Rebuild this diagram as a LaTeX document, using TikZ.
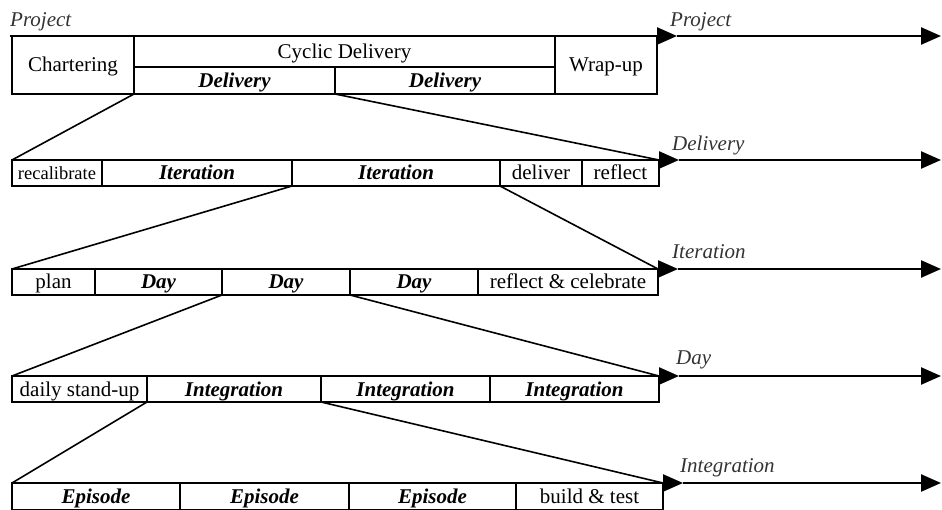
\documentclass[tikz,border=0pt]{standalone}
\usepackage{fontspec}
\setmainfont{Liberation Serif}
\usetikzlibrary{arrows.meta,positioning}

\begin{document}
\begin{tikzpicture}[
  x=1pt, y=-1pt,
  seg/.style={draw, line width=1.5pt, outer sep=0pt, inner sep=0pt, align=center,
              minimum height=26pt, text height=16pt, text depth=2pt,
              font=\fontsize{21}{24}\selectfont},
  bi/.style={font=\fontsize{21}{24}\selectfont\bfseries\itshape},
  tl/.style={line width=2.4pt, -{Triangle[length=20pt, width=17pt]}},
  zoom/.style={line width=1.6pt},
  lvl/.style={anchor=base west, inner sep=0pt, text=black!80,
              font=\fontsize{21}{24}\selectfont\itshape}
]
\useasboundingbox (0,0) rectangle (942,510);

% project level
\node[seg, minimum width=122pt, minimum height=58pt, anchor=north west] (chart) at (12,36) {Chartering};
\node[seg, minimum width=421pt, minimum height=31pt, below right=0pt of chart.north east] (cyc) {Cyclic Delivery};
\node[seg, bi, minimum width=201pt, minimum height=27pt, below right=0pt of cyc.south west] (pdel1) {Delivery};
\node[seg, bi, minimum width=220pt, minimum height=27pt, right=0pt of pdel1] (pdel2) {Delivery};
\node[seg, minimum width=102pt, minimum height=58pt, below right=0pt of cyc.north east] (wrap) {Wrap-up};

% delivery level
\node[seg, font=\fontsize{18.5}{22}\selectfont, minimum width=90pt, anchor=north west] (recal) at (12,160) {recalibrate};
\node[seg, bi, minimum width=190pt, right=0pt of recal] (diter1) {Iteration};
\node[seg, bi, minimum width=208pt, right=0pt of diter1] (diter2) {Iteration};
\node[seg, minimum width=82pt, right=0pt of diter2] (deliver) {deliver};
\node[seg, minimum width=77pt, right=0pt of deliver] (dreflect) {reflect};

% iteration level
\node[seg, minimum width=83pt, anchor=north west] (plan) at (12,269) {plan};
\node[seg, bi, minimum width=127pt, right=0pt of plan] (iday1) {Day};
\node[seg, bi, minimum width=128pt, right=0pt of iday1] (iday2) {Day};
\node[seg, bi, minimum width=128pt, right=0pt of iday2] (iday3) {Day};
\node[seg, minimum width=180pt, right=0pt of iday3] (celeb) {reflect \& celebrate};

% day level
\node[seg, minimum width=135pt, anchor=north west] (standup) at (12,376) {daily stand-up};
\node[seg, bi, minimum width=174pt, right=0pt of standup] (dint1) {Integration};
\node[seg, bi, minimum width=169pt, right=0pt of dint1] (dint2) {Integration};
\node[seg, bi, minimum width=169pt, right=0pt of dint2] (dint3) {Integration};

% integration level
\node[seg, bi, minimum width=168pt, minimum height=27pt, anchor=north west] (ep1) at (12,483) {Episode};
\node[seg, bi, minimum width=169pt, minimum height=27pt, right=0pt of ep1] (ep2) {Episode};
\node[seg, bi, minimum width=167pt, minimum height=27pt, right=0pt of ep2] (ep3) {Episode};
\node[seg, minimum width=147pt, minimum height=27pt, right=0pt of ep3] (build) {build \& test};

% time lines
\coordinate (pmid) at ([xshift=20pt]wrap.north east);
\coordinate (pend) at (941,36);
\coordinate (dmid) at ([xshift=20pt]dreflect.north east);
\coordinate (dend) at (941,160);
\coordinate (imid) at ([xshift=20pt]celeb.north east);
\coordinate (iend) at (941,269);
\coordinate (ymid) at ([xshift=20pt]dint3.north east);
\coordinate (yend) at (941,376);
\coordinate (gmid) at ([xshift=20pt]build.north east);
\coordinate (gend) at (941,483);

\draw[tl] ([xshift=-2pt]chart.north west) -- (pmid);
\draw[tl] (pmid) -- (pend);
\draw[tl] (recal.north west) -- (dmid);
\draw[tl] (dmid) -- (dend);
\draw[tl] (plan.north west) -- (imid);
\draw[tl] (imid) -- (iend);
\draw[tl] (standup.north west) -- (ymid);
\draw[tl] (ymid) -- (yend);
\draw[tl] (ep1.north west) -- (gmid);
\draw[tl] (gmid) -- (gend);

% level names
\node[lvl] (lproj) at (10,27) {Project};
\node[lvl] (rproj) at ([xshift=-7pt, yshift=9pt]pmid) {Project};
\node[lvl] (rdel) at ([xshift=-7pt, yshift=9pt]dmid) {Delivery};
\node[lvl] (riter) at ([xshift=-6pt, yshift=10pt]imid) {Iteration};
\node[lvl] (rday) at ([xshift=-3pt, yshift=12pt]ymid) {Day};
\node[lvl] (rint) at ([xshift=-3pt, yshift=11pt]gmid) {Integration};

% zoom lines
\draw[zoom] (pdel1.south west) -- (recal.north west);
\draw[zoom] (pdel1.south east) -- (dreflect.north east);
\draw[zoom] (diter2.south west) -- (plan.north west);
\draw[zoom] (diter2.south east) -- (celeb.north east);
\draw[zoom] (iday2.south west) -- (standup.north west);
\draw[zoom] (iday2.south east) -- (dint3.north east);
\draw[zoom] (dint1.south west) -- (ep1.north west);
\draw[zoom] (dint1.south east) -- (build.north east);
\end{tikzpicture}
\end{document}
